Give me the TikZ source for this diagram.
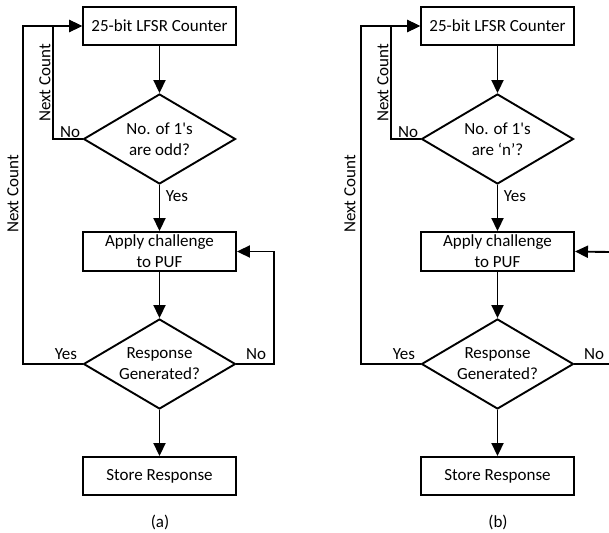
\documentclass[tikz,border=0pt]{standalone}
\usepackage{fontspec}
\setmainfont{Carlito}
\usetikzlibrary{shapes.geometric,arrows.meta}
\begin{document}
\begin{tikzpicture}[x=1pt,y=-1pt,
  font=\fontsize{17}{21}\selectfont,
  every path/.style={line width=1.9pt},
  box/.style={draw,rectangle,minimum width=153pt,minimum height=38pt,inner sep=0pt,align=center},
  dia/.style={draw,diamond,minimum width=152pt,minimum height=90pt,aspect=1.69,inner sep=0pt,align=center},
  arr/.style={-{Triangle[length=13pt,width=12pt]}},
  lbl/.style={inner sep=0pt},
  vlbl/.style={inner sep=0pt,rotate=90}]
\useasboundingbox (0,0) rectangle (609,532);
% ---------- (a) ----------
\node[box] (c1) at (159.5,26) {25-bit LFSR Counter};
\node[dia] (d1) at (159.5,139) {No. of 1\textquotesingle s\\are odd?};
\node[box,minimum height=39pt] (p1) at (159.5,251.5) {Apply challenge\\to PUF};
\node[dia] (d2) at (159.5,364) {Response\\Generated?};
\node[box] (s1) at (159.5,476) {Store Response};
\node[lbl] (ta) at (160,522) {(a)};
\draw[arr] (c1) -- (d1);
\draw[arr] (d1) -- (p1);
\draw[arr] (p1) -- (d2);
\draw[arr] (d2) -- (s1);
\draw[arr] (d1.west) -- (53,139) |- (c1.west);
\draw[arr] (d2.west) -- (23,364) |- (c1.west);
\draw[arr] (d2.east) -- (274,364) |- (p1.east);
\node[lbl] (ya1) at (177,196) {Yes};
\node[lbl] (na1) at (70,132) {No};
\node[lbl] (ya2) at (66,354) {Yes};
\node[lbl] (na2) at (256,354) {No};
\node[vlbl] (nc1) at (45,83) {Next Count};
\node[vlbl] (nc2) at (13,194) {Next Count};
% ---------- (b) ----------
\node[box] (c1b) at (497.5,26) {25-bit LFSR Counter};
\node[dia] (d1b) at (497.5,139) {No. of 1\textquotesingle s\\are ‘n’?};
\node[box,minimum height=39pt] (p1b) at (497.5,251.5) {Apply challenge\\to PUF};
\node[dia] (d2b) at (497.5,364) {Response\\Generated?};
\node[box] (s1b) at (497.5,476) {Store Response};
\node[lbl] (tb) at (498,522) {(b)};
\coordinate (eb1) at (609,364);
\coordinate (eb2) at (609,252);
\draw[arr] (c1b) -- (d1b);
\draw[arr] (d1b) -- (p1b);
\draw[arr] (p1b) -- (d2b);
\draw[arr] (d2b) -- (s1b);
\draw[arr] (d1b.west) -- (391,139) |- (c1b.west);
\draw[arr] (d2b.west) -- (361,364) |- (c1b.west);
\draw (d2b.east) -- (eb1);
\draw[arr] (eb2) -- (p1b.east);
\node[lbl] (yb1) at (515,196) {Yes};
\node[lbl] (nb1) at (408,132) {No};
\node[lbl] (yb2) at (404,354) {Yes};
\node[lbl] (nb2) at (594,354) {No};
\node[vlbl] (nc1b) at (383,83) {Next Count};
\node[vlbl] (nc2b) at (350,194) {Next Count};
\end{tikzpicture}
\end{document}
